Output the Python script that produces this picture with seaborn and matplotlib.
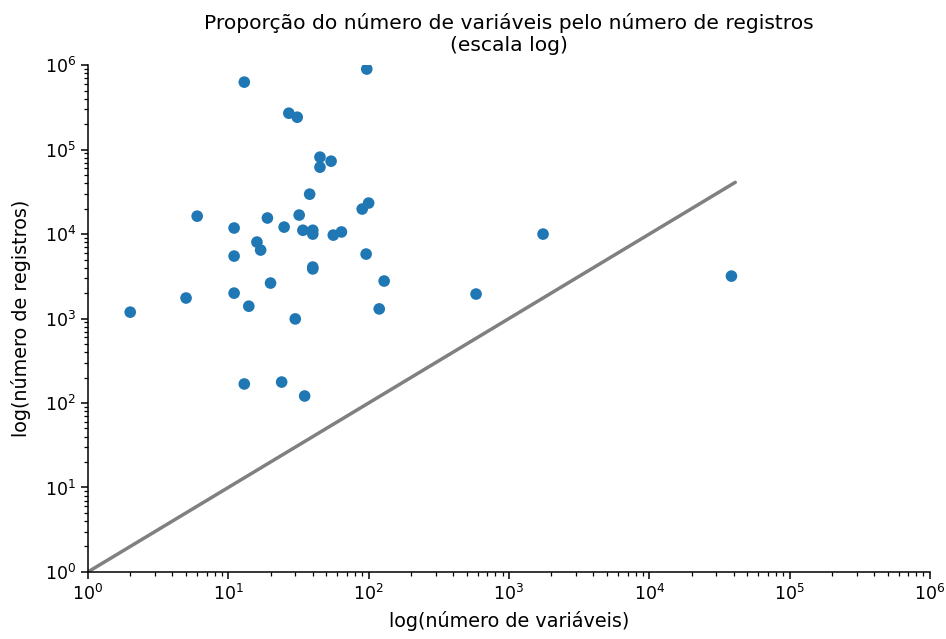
import numpy as np
import pandas as pd
import matplotlib
matplotlib.use('Agg')
import matplotlib.pyplot as plt
import seaborn as sns

# número de variáveis / número de registros por dataset
n_variaveis = [13, 97, 27, 31, 45, 54, 45, 38, 100, 90, 6, 32, 19, 11, 25, 34, 40, 40,
               64, 56, 1750, 16, 17, 11, 96, 40, 40, 38500, 20, 129, 11, 583, 5, 14,
               119, 2, 30, 13, 24, 35]
n_registros = [630000, 900000, 270000, 242000, 81500, 73000, 62000, 29700, 23300, 19800,
               16300, 16800, 15500, 11800, 12100, 11100, 11100, 10000, 10600, 9730,
               10000, 8040, 6470, 5490, 5800, 4070, 3870, 3180, 2630, 2780, 2000, 1950,
               1750, 1400, 1300, 1190, 990, 168, 177, 121]

# linha de referência y = x
linha_x = [1, 41000]
linha_y = [1, 41000]

df = pd.DataFrame({'variaveis': n_variaveis, 'registros': n_registros})

sns.set_style('ticks')
plt.rcParams['font.family'] = ['DejaVu Sans']
for key in ['text.color', 'axes.labelcolor', 'xtick.color', 'ytick.color', 'axes.edgecolor']:
    plt.rcParams[key] = 'black'

fig, ax = plt.subplots(figsize=(9.46, 6.39), dpi=100)
fig.subplots_adjust(left=0.093, right=0.983, top=0.898, bottom=0.105)

sns.scatterplot(data=df, x='variaveis', y='registros', ax=ax, s=70,
                color='#1f77b4', edgecolor='none', linewidth=0)
sns.lineplot(x=linha_x, y=linha_y, ax=ax, color='gray', linewidth=2.5)

ax.set_xscale('log')
ax.set_yscale('log')
ax.set_xlim(1, 1e6)
ax.set_ylim(1, 1e6)
ax.set_title('Proporção do número de variáveis pelo número de registros\n(escala log)',
             fontsize=14.6, pad=10)
ax.set_xlabel('log(número de variáveis)', fontsize=13.8, labelpad=5)
ax.set_ylabel('log(número de registros)', fontsize=13.8, labelpad=10)
ax.tick_params(which='major', labelsize=12.5, length=5, width=1.1)
ax.tick_params(which='minor', length=3, width=0.9)
for sp in ax.spines.values():
    sp.set_linewidth(1.1)
sns.despine(ax=ax)

plt.savefig('out.png', dpi=100)
plt.close()
